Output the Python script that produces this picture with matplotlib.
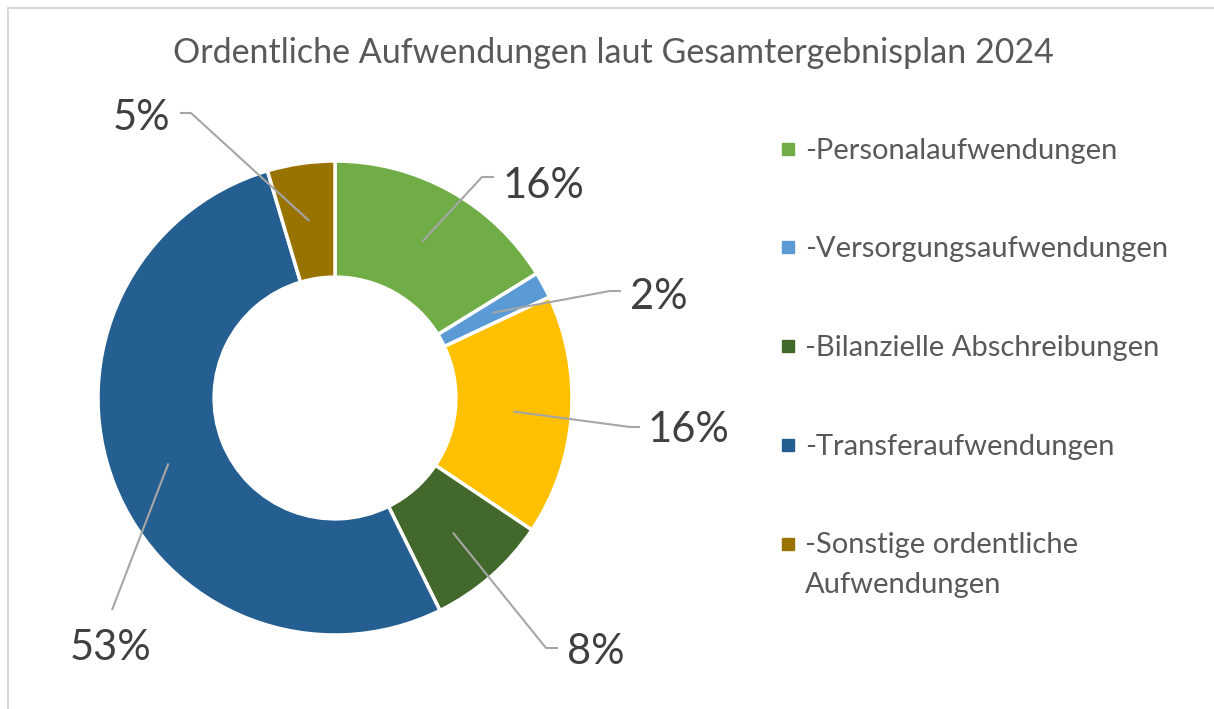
import numpy as np
import matplotlib.pyplot as plt
from matplotlib.patches import Rectangle
from matplotlib.lines import Line2D

plt.rcParams['font.family'] = ['Lato', 'DejaVu Sans']

title = 'Ordentliche Aufwendungen laut Gesamtergebnisplan 2024'
categories = ['-Personalaufwendungen', '-Versorgungsaufwendungen',
              '-Aufwendungen für Sach- und Dienstleistungen',
              '-Bilanzielle Abschreibungen', '-Transferaufwendungen',
              '-Sonstige ordentliche\nAufwendungen']
values = [16.2, 1.8, 16.4, 8.3, 52.7, 4.6]
colors = ['#70AD47', '#5B9BD5', '#FFC000', '#43682B', '#255E91', '#997300']
in_legend = [True, True, False, True, True, True]

# label layout in pixels: text centre, elbow, end of horizontal piece
label_pos = [(543, 186), (659, 297), (688, 430), (596, 652), (111, 648), (141, 118)]
elbows = [(482, 177), (610, 291), (630, 427), (546, 648), (112, 610), (191, 113)]
ends = [(494, 177), (621, 291), (640, 427), (558, 648), (112, 610), (180, 113)]

W, H = 1214, 709
cx, cy, R = 335, 398, 237


def px(p):
    return ((p[0] - cx) / R, (cy - p[1]) / R)


fig = plt.figure(figsize=(W / 100, H / 100), dpi=100)
ax = fig.add_axes([0, 0, 1, 1])
wedges, _ = ax.pie(values, colors=colors, startangle=90, counterclock=False,
                   radius=1, wedgeprops=dict(width=0.49, edgecolor='white', linewidth=2.5))
ax.set_aspect('auto')
ax.set_xlim(-cx / R, (W - cx) / R)
ax.set_ylim((cy - H) / R, cy / R)
ax.axis('off')

total = sum(values)
cum = np.cumsum([0] + values[:-1])
for i, v in enumerate(values):
    th = np.deg2rad(360 * (cum[i] + v / 2) / total)
    r = 0.755
    mx, my = r * np.sin(th), r * np.cos(th)
    ex, ey = px(elbows[i])
    fx, fy = px(ends[i])
    ax.plot([mx, ex, fx], [my, ey, fy], color='#A6A6A6', lw=1.5, solid_capstyle='butt')
    tx, ty = px(label_pos[i])
    ax.text(tx, ty, f'{v / total * 100:.0f}%', ha='center', va='center',
            fontsize=30, color='#404040')

fig.text(613 / W, 1 - 63 / H, title, ha='center', va='baseline', fontsize=24.5, color='#595959')

# legend
row = 0
for i, lab in enumerate(categories):
    if not in_legend[i]:
        continue
    y = 148.5 + row * 98.75
    fig.patches.append(Rectangle((782 / W, 1 - (y + 6) / H), 12 / W, 12 / H,
                                 transform=fig.transFigure, color=colors[i]))
    for k, line in enumerate(lab.split('\n')):
        fig.text(805 / W, 1 - (y + 10 + 39 * k) / H, line, ha='left', va='baseline',
                 fontsize=21, color='#595959')
    row += 1

# chart area border (top and left visible)
fig.add_artist(Line2D([8 / W, 8 / W], [0, 1 - 8 / H], transform=fig.transFigure, color='#D9D9D9', lw=1.5))
fig.add_artist(Line2D([8 / W, 1], [1 - 8 / H, 1 - 8 / H], transform=fig.transFigure, color='#D9D9D9', lw=1.5))

fig.savefig('out.png', dpi=100, facecolor='white')
